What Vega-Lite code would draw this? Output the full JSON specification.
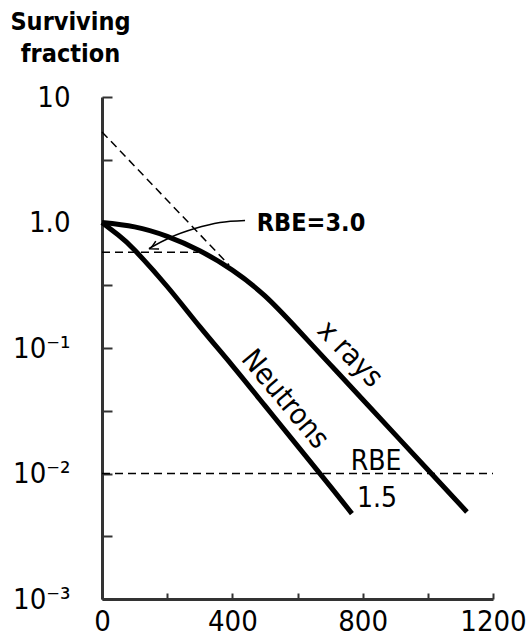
{
  "$schema": "https://vega.github.io/schema/vega-lite/v6.json",
  "width": 391,
  "height": 502,
  "autosize": "none",
  "padding": {"left": 102, "top": 97, "right": 36, "bottom": 42},
  "background": "white",
  "config": {
    "view": {"stroke": null},
    "font": "DejaVu Sans Condensed, DejaVu Sans, sans-serif"
  },
  "datasets": {
    "curves": [
      {"s": "neutron", "o": 0, "x": 0, "y": 1},
      {"s": "neutron", "o": 1, "x": 50, "y": 0.794},
      {"s": "neutron", "o": 2, "x": 100, "y": 0.603},
      {"s": "neutron", "o": 3, "x": 200, "y": 0.309},
      {"s": "neutron", "o": 4, "x": 300, "y": 0.148},
      {"s": "neutron", "o": 5, "x": 400, "y": 0.0724},
      {"s": "neutron", "o": 6, "x": 500, "y": 0.0347},
      {"s": "neutron", "o": 7, "x": 600, "y": 0.0166},
      {"s": "neutron", "o": 8, "x": 700, "y": 0.00794},
      {"s": "neutron", "o": 9, "x": 767, "y": 0.00479},
      {"s": "xray", "o": 0, "x": 0, "y": 1},
      {"s": "xray", "o": 1, "x": 100, "y": 0.923},
      {"s": "xray", "o": 2, "x": 200, "y": 0.776},
      {"s": "xray", "o": 3, "x": 300, "y": 0.596},
      {"s": "xray", "o": 4, "x": 400, "y": 0.417},
      {"s": "xray", "o": 5, "x": 500, "y": 0.26},
      {"s": "xray", "o": 6, "x": 600, "y": 0.141},
      {"s": "xray", "o": 7, "x": 700, "y": 0.0741},
      {"s": "xray", "o": 8, "x": 800, "y": 0.0389},
      {"s": "xray", "o": 9, "x": 900, "y": 0.0204},
      {"s": "xray", "o": 10, "x": 1000, "y": 0.0107},
      {"s": "xray", "o": 11, "x": 1120, "y": 0.00494}
    ],
    "dashed": [
      {"s": "ext", "o": 0, "x": 0, "y": 5.27},
      {"s": "ext", "o": 1, "x": 390, "y": 0.458},
      {"s": "h1", "o": 0, "x": 0, "y": 0.58},
      {"s": "h1", "o": 1, "x": 295, "y": 0.58},
      {"s": "h2", "o": 0, "x": 0, "y": 0.01},
      {"s": "h2", "o": 1, "x": 1200, "y": 0.01}
    ],
    "arrow": [
      {"s": "shaft", "o": 0, "x": 439, "y": 1.038},
      {"s": "shaft", "o": 1, "x": 362, "y": 1.0},
      {"s": "shaft", "o": 2, "x": 285, "y": 0.895},
      {"s": "shaft", "o": 3, "x": 209, "y": 0.759},
      {"s": "shaft", "o": 4, "x": 144, "y": 0.619},
      {"s": "head", "o": 0, "x": 175, "y": 0.616},
      {"s": "head", "o": 1, "x": 144, "y": 0.619},
      {"s": "head", "o": 2, "x": 165, "y": 0.71}
    ],
    "labels": [
      {"k": "rbe3", "label": "RBE=3.0", "x": 475, "y": 0.863},
      {"k": "rbe15", "label": "RBE", "x": 841, "y": 0.01057},
      {"k": "rbe15", "label": "1.5", "x": 844, "y": 0.00544},
      {"k": "neutron", "label": "Neutrons", "x": 562, "y": 0.0391},
      {"k": "xray", "label": "x rays", "x": 761, "y": 0.0895}
    ]
  },
  "encoding": {
    "x": {
      "field": "x", "type": "quantitative",
      "scale": {"domain": [0, 1200], "nice": false, "zero": false},
      "axis": {
        "title": null,
        "values": [0, 200, 400, 600, 800, 1000, 1200],
        "labelExpr": "datum.value % 400 == 0 ? format(datum.value, 'd') : ''",
        "grid": false,
        "domainColor": "#333",
        "domainWidth": 3,
        "tickColor": "#333",
        "tickWidth": 2,
        "tickSize": -6,
        "labelPadding": 14,
        "labelFontSize": 29,
        "labelColor": "black",
        "labelFlush": false,
        "labelOverlap": false
      }
    },
    "y": {
      "field": "y", "type": "quantitative",
      "scale": {"type": "log", "domain": [0.001, 10], "nice": false},
      "axis": {
        "title": ["Surviving", "fraction"],
        "titleAngle": 0,
        "titleAlign": "center",
        "titleBaseline": "top",
        "titleX": -32,
        "titleY": -88,
        "titleFontSize": 25,
        "titleFontWeight": "bold",
        "titleLineHeight": 32,
        "titleColor": "black",
        "values": [0.001, 0.00316, 0.01, 0.0316, 0.1, 0.316, 1, 3.16, 10],
        "labelExpr": "datum.value > 5 ? '10' : (datum.value > 0.5 && datum.value < 2) ? '1.0' : (datum.value > 0.05 && datum.value < 0.2) ? '10⁻¹' : (datum.value > 0.005 && datum.value < 0.02) ? '10⁻²' : datum.value < 0.002 ? '10⁻³' : ''",
        "grid": false,
        "domainColor": "#333",
        "domainWidth": 3,
        "tickColor": "#333",
        "tickWidth": 2,
        "tickSize": -10,
        "labelPadding": 42,
        "labelFontSize": 29,
        "labelColor": "black",
        "labelFlush": false,
        "labelOverlap": false
      }
    }
  },
  "layer": [
    {
      "data": {"name": "curves"},
      "mark": {"type": "line", "color": "black", "strokeWidth": 5, "strokeCap": "butt", "interpolate": "natural"},
      "encoding": {"detail": {"field": "s"}, "order": {"field": "o"}}
    },
    {
      "data": {"name": "dashed"},
      "mark": {"type": "line", "color": "black", "strokeWidth": 1.5, "strokeDash": [8, 5]},
      "encoding": {"detail": {"field": "s"}, "order": {"field": "o"}}
    },
    {
      "data": {"name": "arrow"},
      "mark": {"type": "line", "color": "black", "strokeWidth": 1.5, "interpolate": "monotone"},
      "encoding": {"detail": {"field": "s"}, "order": {"field": "o"}}
    },
    {
      "data": {"name": "labels"},
      "transform": [{"filter": "datum.k == 'rbe3'"}],
      "mark": {"type": "text", "align": "left", "baseline": "alphabetic", "fontSize": 25, "fontWeight": "bold", "color": "black"},
      "encoding": {"text": {"field": "label"}}
    },
    {
      "data": {"name": "labels"},
      "transform": [{"filter": "datum.k == 'rbe15'"}],
      "mark": {"type": "text", "align": "center", "baseline": "alphabetic", "fontSize": 28, "color": "black"},
      "encoding": {"text": {"field": "label"}}
    },
    {
      "data": {"name": "labels"},
      "transform": [{"filter": "datum.k == 'neutron'"}],
      "mark": {"type": "text", "align": "center", "baseline": "middle", "fontSize": 29, "angle": 50, "color": "black"},
      "encoding": {"text": {"field": "label"}}
    },
    {
      "data": {"name": "labels"},
      "transform": [{"filter": "datum.k == 'xray'"}],
      "mark": {"type": "text", "align": "center", "baseline": "middle", "fontSize": 29, "angle": 46, "color": "black"},
      "encoding": {"text": {"field": "label"}}
    }
  ]
}
